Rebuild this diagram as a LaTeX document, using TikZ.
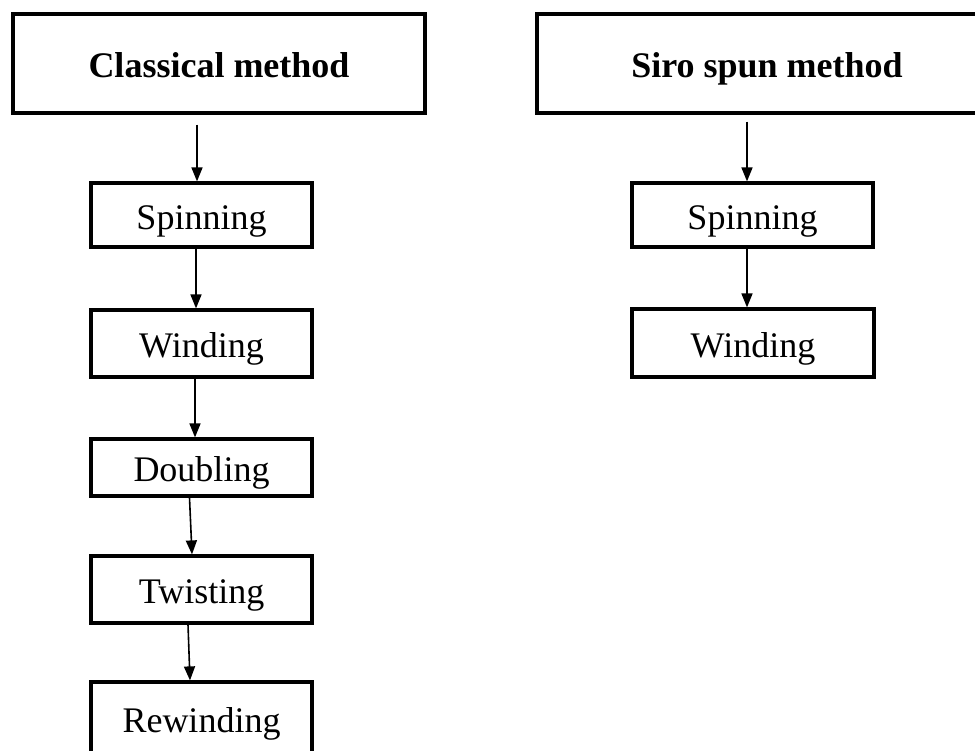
\documentclass[tikz,border=0pt]{standalone}
\usepackage{fontspec}
\setmainfont{Liberation Serif}
\usetikzlibrary{arrows.meta,calc}

\tikzset{
  basebox/.style={draw, line width=3.2pt, rectangle, inner sep=0pt,
    text height=28pt, text depth=0pt},
  headbox/.style={basebox, font=\fontsize{36}{40}\selectfont\bfseries},
  stepbox/.style={basebox, font=\fontsize{36}{40}\selectfont},
  flow/.style={line width=1.6pt, -{Triangle[length=14pt,width=11pt]}}
}

\begin{document}
\begin{tikzpicture}[x=1pt,y=-1pt]
  \useasboundingbox (0,0) rectangle (975,750);
  \clip (0,0) rectangle (975,750);

  % column headers
  \node[headbox, minimum width=412pt, minimum height=99pt] (classical) at (219,63.5) {Classical method};
  \node[headbox, minimum width=460pt, minimum height=99pt] (siro) at (767,63.5) {Siro spun method};

  % classical method steps
  \node[stepbox, minimum width=221pt, minimum height=64pt] (spinL) at (201.5,215) {Spinning};
  \node[stepbox, minimum width=221pt, minimum height=67pt] (windL) at (201.5,343.5) {Winding};
  \node[stepbox, minimum width=221pt, minimum height=57pt] (doubl) at (201.5,467.5) {Doubling};
  \node[stepbox, minimum width=221pt, minimum height=67pt] (twist) at (201.5,589.5) {Twisting};
  \node[stepbox, minimum width=221pt, minimum height=72pt] (rewind) at (201.5,718) {Rewinding};

  % siro spun steps
  \node[stepbox, minimum width=241pt, minimum height=64pt] (spinR) at (752.5,215) {Spinning};
  \node[stepbox, minimum width=242pt, minimum height=68pt] (windR) at (753,343) {Winding};

  % connectors
  \draw[flow] ([xshift=-22pt,yshift=-10pt]classical.south) -- ([xshift=-4.5pt]spinL.north);
  \draw[flow] ([xshift=-5.5pt]spinL.south) -- ([xshift=-5.5pt]windL.north);
  \draw[flow] ([xshift=-6.5pt]windL.south) -- ([xshift=-6.5pt]doubl.north);
  \draw[flow] ([xshift=-12pt]doubl.south) -- ([xshift=-9.5pt]twist.north);
  \draw[flow] ([xshift=-13.5pt]twist.south) -- ([xshift=-11.5pt]rewind.north);

  \draw[flow] ([xshift=-20pt,yshift=-7pt]siro.south) -- ([xshift=-5.5pt]spinR.north);
  \draw[flow] ([xshift=-5.5pt]spinR.south) -- ([xshift=-6pt]windR.north);
\end{tikzpicture}
\end{document}
